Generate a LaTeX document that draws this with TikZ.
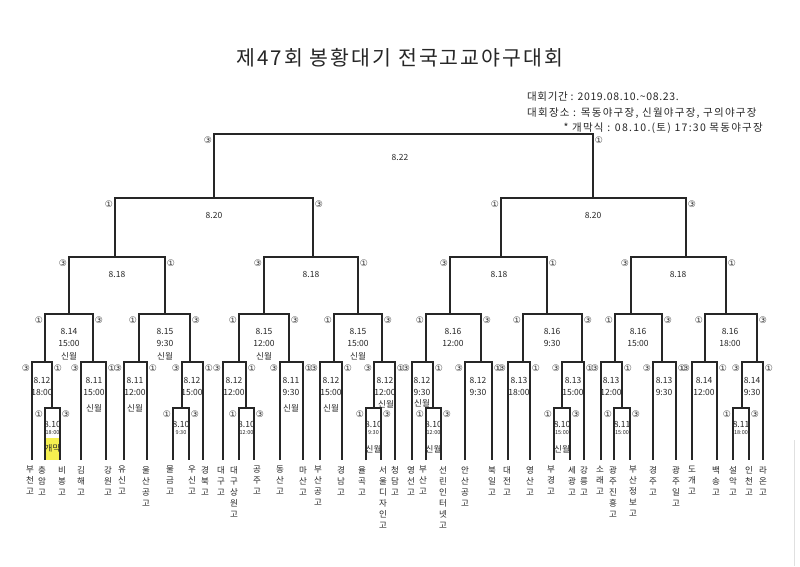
\documentclass[tikz,border=0pt]{standalone}
\usepackage{fontspec}
\setmainfont{Noto Sans CJK KR}
\newfontfamily\symf{DejaVu Sans}
\newfontfamily\titlef[LetterSpace=10]{Noto Sans CJK KR}
\newfontfamily\infof[LetterSpace=12]{Noto Sans CJK KR}
\newfontfamily\infog[LetterSpace=6]{Noto Sans CJK KR}
\definecolor{ylw}{RGB}{245,240,80}
\tikzset{
 bline/.style={line width=1.1pt, draw=black!85},
 circ/.style={font=\symf\fontsize{9}{9}\selectfont, inner sep=0pt, text=black!80},
 mt/.style={font=\fontsize{8.5}{10}\selectfont, inner sep=0pt, text=black!85},
 st/.style={font=\fontsize{5.5}{6}\selectfont, inner sep=0pt, text=black!85},
 tn/.style={font=\fontsize{8.5}{11}\selectfont, inner sep=0pt, align=center, anchor=north, text=black!85},
 info/.style={font=\infof\fontsize{10.5}{12}\selectfont, inner sep=0pt, text=black!85},
}
% name, xl, xr, y, leftchild, rightchild, labL, labR
\newcommand\bracketm[8]{%
 \coordinate (#1-l) at (#2,#4);
 \coordinate (#1-r) at (#3,#4);
 \draw[bline] (#1-l |- #5) -- (#1-l) -- (#1-r) -- (#1-r |- #6);
 \node[circ] (#1-cl) at ([xshift=-6pt,yshift=-6pt]#1-l) {#7};
 \node[circ] (#1-cr) at ([xshift=6pt,yshift=-6pt]#1-r) {#8};
}
\begin{document}
\begin{tikzpicture}[x=1pt,y=-1pt]
\useasboundingbox (0,0) rectangle (800,566);
\fill[white] (0,0) rectangle (800,566);
\draw[black!12, line width=0.8pt] (794,440) -- (794,566);

% header
\node[font=\titlef\fontsize{20.5}{24}\selectfont, inner sep=0pt, text=black!85] (title) at (400,58) {제47회 봉황대기 전국고교야구대회};
\node[info, font=\infog\fontsize{10.5}{12}\selectfont, anchor=west] (i1) at (527,97) {대회기간 : 2019.08.10.\textasciitilde 08.23.};
\node[info, anchor=west] (i2) at (527,113) {대회장소 : 목동야구장, 신월야구장, 구의야구장};
\node[info, anchor=east] (i3) at (763,128) {* 개막식 : 08.10.(토) 17:30 목동야구장};

\coordinate (bot) at (0,460);

% yellow box
\fill[ylw] (45,438) rectangle (60,460);

% opening-round matches
\bracketm{sA}{45}{60}{408}{bot}{bot}{①}{③}
\bracketm{sD}{173}{189}{408}{bot}{bot}{①}{③}
\bracketm{sE}{239}{254}{408}{bot}{bot}{①}{③}
\bracketm{sH}{366}{381}{408}{bot}{bot}{①}{③}
\bracketm{sI}{426}{441}{408}{bot}{bot}{①}{③}
\bracketm{sL}{554}{570}{408}{bot}{bot}{①}{③}
\bracketm{sM}{614}{630}{408}{bot}{bot}{①}{③}
\bracketm{sP}{733}{749}{408}{bot}{bot}{①}{③}

% round of 32
\bracketm{A}{32}{52}{362}{bot}{sA-l}{③}{①}
\bracketm{B}{81}{106}{362}{bot}{bot}{③}{①}
\bracketm{C}{124}{147}{362}{bot}{bot}{③}{①}
\bracketm{D}{182}{203}{362}{sD-l}{bot}{③}{①}
\bracketm{E}{223}{246}{362}{bot}{sE-l}{③}{①}
\bracketm{F}{280}{303}{362}{bot}{bot}{③}{①}
\bracketm{G}{320}{342}{362}{bot}{bot}{③}{①}
\bracketm{H}{374}{395}{362}{sH-l}{bot}{③}{①}
\bracketm{I}{412}{433}{362}{bot}{sI-l}{③}{①}
\bracketm{J}{465}{492}{362}{bot}{bot}{③}{①}
\bracketm{K}{508}{530}{362}{bot}{bot}{③}{①}
\bracketm{L}{562}{584}{362}{sL-l}{bot}{③}{①}
\bracketm{M}{601}{622}{362}{bot}{sM-l}{③}{①}
\bracketm{N}{653}{676}{362}{bot}{bot}{③}{①}
\bracketm{O}{692}{717}{362}{bot}{bot}{③}{①}
\bracketm{P}{742}{763}{362}{sP-l}{bot}{③}{①}

% round of 16
\bracketm{R1}{45}{93}{314}{A-l}{B-l}{①}{③}
\bracketm{R2}{139}{190}{314}{C-l}{D-l}{①}{③}
\bracketm{R3}{239}{289}{314}{E-l}{F-l}{①}{③}
\bracketm{R4}{334}{382}{314}{G-l}{H-l}{①}{③}
\bracketm{R5}{426}{481}{314}{I-l}{J-l}{①}{③}
\bracketm{R6}{523}{582}{314}{K-l}{L-l}{①}{③}
\bracketm{R7}{615}{662}{314}{M-l}{N-l}{①}{③}
\bracketm{R8}{705}{757}{314}{O-l}{P-l}{①}{③}

% quarter finals
\bracketm{Q1}{69}{165}{257}{R1-l}{R2-l}{③}{①}
\bracketm{Q2}{264}{358}{257}{R3-l}{R4-l}{③}{①}
\bracketm{Q3}{450}{547}{257}{R5-l}{R6-l}{③}{①}
\bracketm{Q4}{631}{726}{257}{R7-l}{R8-l}{③}{①}

% semi finals
\bracketm{S1}{115}{313}{198}{Q1-l}{Q2-l}{①}{③}
\bracketm{S2}{501}{686}{198}{Q3-l}{Q4-l}{①}{③}

% final
\bracketm{FN}{214}{593}{134}{S1-l}{S2-l}{③}{①}

% dates of upper rounds
\node[mt] (FN-d) at (400,157) {8.22};
\node[mt] (S1-d) at (214,215) {8.20};
\node[mt] (S2-d) at (593,215) {8.20};
\node[mt] (Q1-d) at (117,274) {8.18};
\node[mt] (Q2-d) at (311,274) {8.18};
\node[mt] (Q3-d) at (499,274) {8.18};
\node[mt] (Q4-d) at (678,274) {8.18};

% round of 16 texts
\node[mt] (R1-d) at (69,331) {8.14};  \node[mt] (R1-t) at (69,343) {15:00};  \node[mt] (R1-v) at (69,356) {신월};
\node[mt] (R2-d) at (165,331) {8.15}; \node[mt] (R2-t) at (165,343) {9:30};  \node[mt] (R2-v) at (165,356) {신월};
\node[mt] (R3-d) at (264,331) {8.15}; \node[mt] (R3-t) at (264,343) {12:00}; \node[mt] (R3-v) at (264,356) {신월};
\node[mt] (R4-d) at (358,331) {8.15}; \node[mt] (R4-t) at (358,343) {15:00}; \node[mt] (R4-v) at (358,356) {신월};
\node[mt] (R5-d) at (453,331) {8.16}; \node[mt] (R5-t) at (453,343) {12:00};
\node[mt] (R6-d) at (552,331) {8.16}; \node[mt] (R6-t) at (552,343) {9:30};
\node[mt] (R7-d) at (638,331) {8.16}; \node[mt] (R7-t) at (638,343) {15:00};
\node[mt] (R8-d) at (730,331) {8.16}; \node[mt] (R8-t) at (730,343) {18:00};

% round of 32 texts
\node[mt] (A-d) at (42,380) {8.12};  \node[mt] (A-t) at (42,392) {18:00};
\node[mt] (B-d) at (94,380) {8.11};  \node[mt] (B-t) at (94,392) {15:00};  \node[mt] (B-v) at (94,408) {신월};
\node[mt] (C-d) at (135,380) {8.11}; \node[mt] (C-t) at (135,392) {12:00}; \node[mt] (C-v) at (135,408) {신월};
\node[mt] (D-d) at (192,380) {8.12}; \node[mt] (D-t) at (192,392) {15:00};
\node[mt] (E-d) at (234,380) {8.12}; \node[mt] (E-t) at (234,392) {12:00};
\node[mt] (F-d) at (291,380) {8.11}; \node[mt] (F-t) at (291,392) {9:30};  \node[mt] (F-v) at (291,408) {신월};
\node[mt] (G-d) at (331,380) {8.12}; \node[mt] (G-t) at (331,392) {15:00}; \node[mt] (G-v) at (331,408) {신월};
\node[mt] (H-d) at (385,380) {8.12}; \node[mt] (H-t) at (385,392) {12:00}; \node[mt] (H-v) at (386,404) {신월};
\node[mt] (I-d) at (422,380) {8.12}; \node[mt] (I-t) at (422,392) {9:30};  \node[mt] (I-v) at (422,403) {신월};
\node[mt] (J-d) at (478,380) {8.12}; \node[mt] (J-t) at (478,392) {9:30};
\node[mt] (K-d) at (519,380) {8.13}; \node[mt] (K-t) at (519,392) {18:00};
\node[mt] (L-d) at (573,380) {8.13}; \node[mt] (L-t) at (573,392) {15:00};
\node[mt] (M-d) at (611,380) {8.13}; \node[mt] (M-t) at (611,392) {12:00};
\node[mt] (N-d) at (664,380) {8.13}; \node[mt] (N-t) at (664,392) {9:30};
\node[mt] (O-d) at (704,380) {8.14}; \node[mt] (O-t) at (704,392) {12:00};
\node[mt] (P-d) at (752,380) {8.14}; \node[mt] (P-t) at (752,392) {9:30};

% opening-round texts
\node[mt] (sA-d) at (52.5,424) {8.10}; \node[st] (sA-t) at (52.5,433) {18:00}; \node[mt] (sA-v) at (52.5,448) {개막};
\node[mt] (sD-d) at (181,424) {8.10};  \node[st] (sD-t) at (181,433) {9:30};
\node[mt] (sE-d) at (246.5,424) {8.10}; \node[st] (sE-t) at (246.5,433) {12:00};
\node[mt] (sH-d) at (373.5,424) {8.10}; \node[st] (sH-t) at (373.5,433) {9:30}; \node[mt] (sH-v) at (373.5,449) {신월};
\node[mt] (sI-d) at (433.5,424) {8.10}; \node[st] (sI-t) at (433.5,433) {12:00}; \node[mt] (sI-v) at (433.5,449) {신월};
\node[mt] (sL-d) at (562,424) {8.10}; \node[st] (sL-t) at (562,433) {15:00}; \node[mt] (sL-v) at (562,449) {신월};
\node[mt] (sM-d) at (622,424) {8.11}; \node[st] (sM-t) at (622,433) {15:00};
\node[mt] (sP-d) at (741,424) {8.11}; \node[st] (sP-t) at (741,433) {18:00};

% team names
\node[tn] (t1) at (30,466) {부\\천\\고};
\node[tn] (t2) at (42,466) {충\\암\\고};
\node[tn] (t3) at (62,466) {비\\봉\\고};
\node[tn] (t4) at (81,466) {김\\해\\고};
\node[tn] (t5) at (108,466) {강\\원\\고};
\node[tn] (t6) at (122,466) {유\\신\\고};
\node[tn] (t7) at (146,466) {울\\산\\공\\고};
\node[tn] (t8) at (170,466) {물\\금\\고};
\node[tn] (t9) at (192,466) {우\\신\\고};
\node[tn] (t10) at (205,466) {경\\북\\고};
\node[tn] (t11) at (221,466) {대\\구\\고};
\node[tn] (t12) at (234,466) {대\\구\\상\\원\\고};
\node[tn] (t13) at (257,466) {공\\주\\고};
\node[tn] (t14) at (280,466) {동\\산\\고};
\node[tn] (t15) at (303,466) {마\\산\\고};
\node[tn] (t16) at (318,466) {부\\산\\공\\고};
\node[tn] (t17) at (341,466) {경\\남\\고};
\node[tn] (t18) at (362,466) {율\\곡\\고};
\node[tn] (t19) at (383,466) {서\\울\\디\\자\\인\\고};
\node[tn] (t20) at (395,466) {청\\담\\고};
\node[tn] (t21) at (411,466) {영\\선\\고};
\node[tn] (t22) at (423,466) {부\\산\\고};
\node[tn] (t23) at (443,466) {선\\린\\인\\터\\넷\\고};
\node[tn] (t24) at (465,466) {안\\산\\공\\고};
\node[tn] (t25) at (492,466) {북\\일\\고};
\node[tn] (t26) at (507,466) {대\\전\\고};
\node[tn] (t27) at (530,466) {영\\산\\고};
\node[tn] (t28) at (551,466) {부\\경\\고};
\node[tn] (t29) at (572,466) {세\\광\\고};
\node[tn] (t30) at (584,466) {강\\릉\\고};
\node[tn] (t31) at (600,466) {소\\래\\고};
\node[tn] (t32) at (613,466) {광\\주\\진\\흥\\고};
\node[tn] (t33) at (633,466) {부\\산\\정\\보\\고};
\node[tn] (t34) at (653,466) {경\\주\\고};
\node[tn] (t35) at (676,466) {광\\주\\일\\고};
\node[tn] (t36) at (692,466) {도\\개\\고};
\node[tn] (t37) at (716,466) {백\\송\\고};
\node[tn] (t38) at (733,466) {설\\악\\고};
\node[tn] (t39) at (749,466) {인\\천\\고};
\node[tn] (t40) at (763,466) {라\\온\\고};
\end{tikzpicture}
\end{document}
